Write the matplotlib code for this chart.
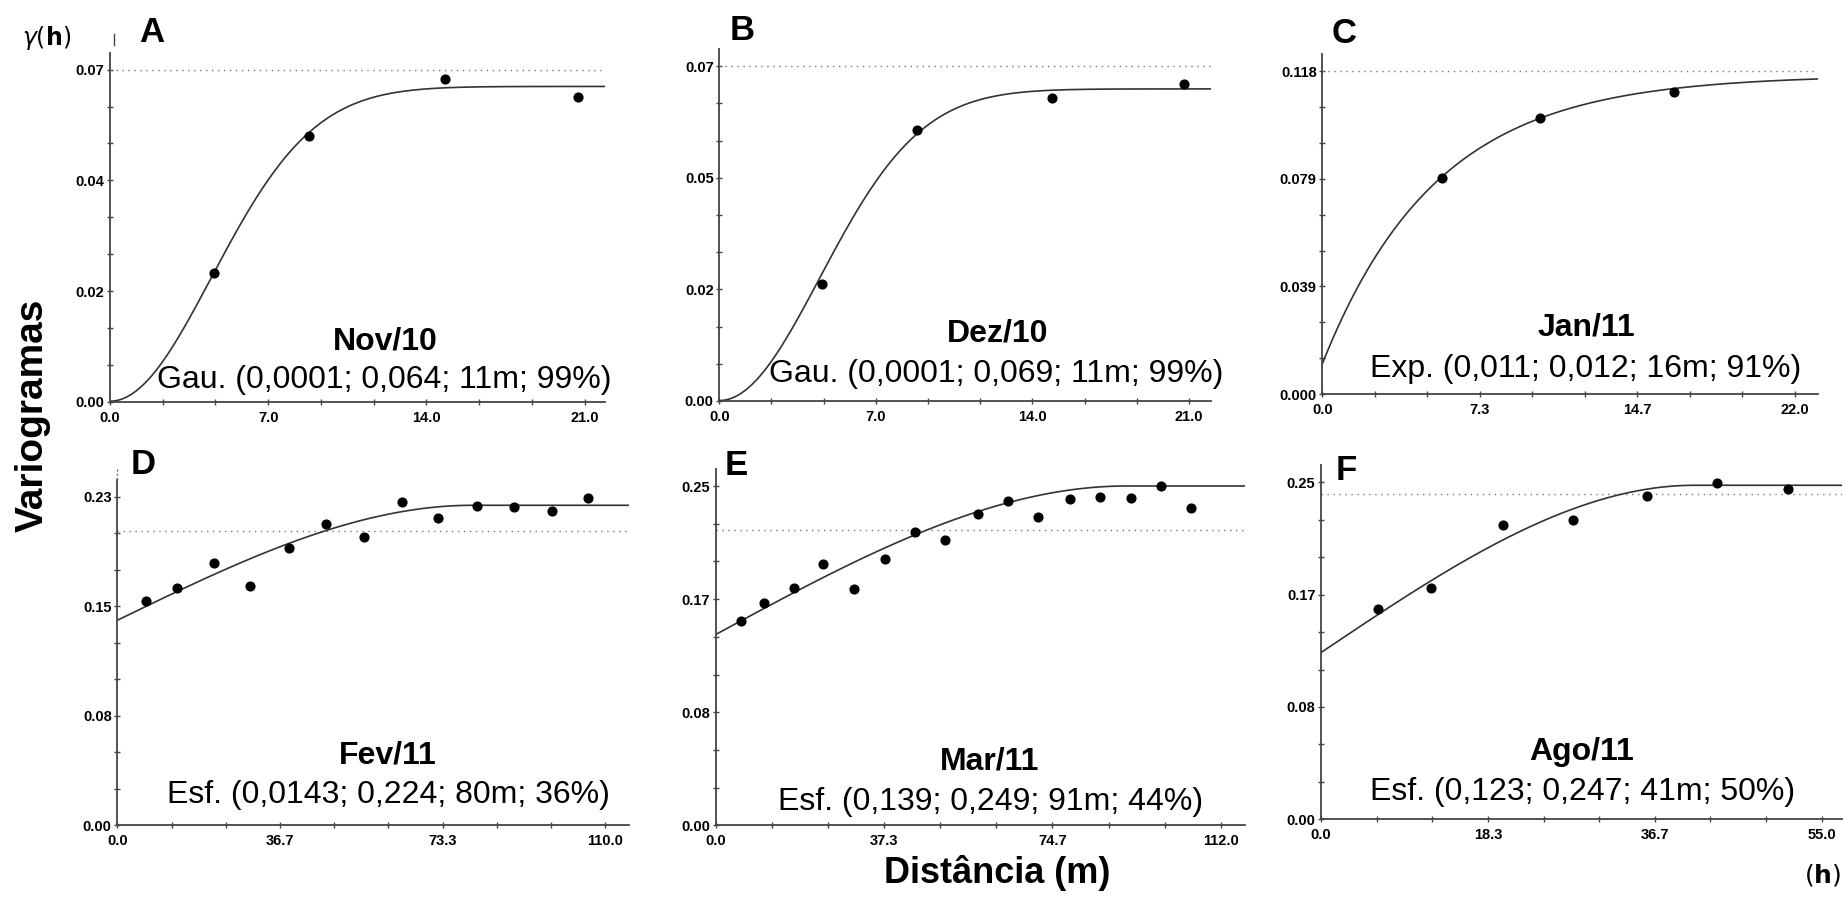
import numpy as np
import matplotlib
matplotlib.use("Agg")
import matplotlib.pyplot as plt
from matplotlib import font_manager as fm
from matplotlib.lines import Line2D

# ---------------- data ----------------
panel_letters = ["A", "B", "C", "D", "E", "F"]
months = ["Nov/10", "Dez/10", "Jan/11", "Fev/11", "Mar/11", "Ago/11"]
model_texts = [
    "Gau. (0,0001; 0,064; 11m; 99%)",
    "Gau. (0,0001; 0,069; 11m; 99%)",
    "Exp. (0,011; 0,012; 16m; 91%)",
    "Esf. (0,0143; 0,224; 80m; 36%)",
    "Esf. (0,139; 0,249; 91m; 44%)",
    "Esf. (0,123; 0,247; 41m; 50%)",
]

# experimental semivariogram points (lag, gamma)
lag_A = [4.60, 8.81, 14.84, 20.72]
gam_A = [0.0262, 0.0540, 0.0655, 0.0618]
lag_B = [4.60, 8.82, 14.86, 20.76]
gam_B = [0.0259, 0.0599, 0.0669, 0.0700]
lag_C = [5.57, 10.14, 16.40]
gam_C = [0.0791, 0.1008, 0.1104]
lag_D = [6.54, 13.52, 21.79, 29.98, 38.69, 46.96, 55.60, 64.09, 72.35, 80.99, 89.48, 97.97, 106.0]
gam_D = [0.1570, 0.1659, 0.1836, 0.1673, 0.1941, 0.2111, 0.2016, 0.2263, 0.2153, 0.2237, 0.2230, 0.2202, 0.2292]
lag_E = [5.62, 10.72, 17.29, 23.87, 30.60, 37.55, 44.12, 50.92, 58.09, 64.89, 71.47, 78.57, 85.22, 92.02, 98.82, 105.47]
gam_E = [0.1499, 0.1634, 0.1739, 0.1920, 0.1732, 0.1957, 0.2150, 0.2091, 0.2282, 0.2378, 0.2263, 0.2392, 0.2409, 0.2400, 0.2490, 0.2331]
lag_F = [6.30, 12.08, 19.96, 27.72, 35.77, 43.50, 51.30]
gam_F = [0.1553, 0.1711, 0.2174, 0.2211, 0.2391, 0.2487, 0.2443]
lags = [lag_A, lag_B, lag_C, lag_D, lag_E, lag_F]
gams = [gam_A, gam_B, gam_C, gam_D, gam_E, gam_F]

# fitted models: type, nugget, sill (C0+C), range
model_type = ["gau", "gau", "exp", "sph", "sph", "sph"]
nugget = [0.0001, 0.0001, 0.0110, 0.1435, 0.1400, 0.1233]
sill = [0.0640, 0.0690, 0.1166, 0.2240, 0.2490, 0.2470]
model_range = [11, 11, 16, 80, 91, 41]

# sample variance (dotted line)
variance = [0.0674, 0.0740, 0.1180, 0.2060, 0.2170, 0.2403]

# axes scales: top y tick value and its labels (at 0, 1/3, 2/3, 1)
y_top = [0.0674, 0.0740, 0.1180, 0.2298, 0.2490, 0.2492]
y_labels = [
    ["0.00", "0.02", "0.04", "0.07"],
    ["0.00", "0.02", "0.05", "0.07"],
    ["0.000", "0.039", "0.079", "0.118"],
    ["0.00", "0.08", "0.15", "0.23"],
    ["0.00", "0.08", "0.17", "0.25"],
    ["0.00", "0.08", "0.17", "0.25"],
]
x_top = [21.0, 21.0, 22.0, 110.0, 112.0, 55.0]
x_labels = [
    ["0.0", "7.0", "14.0", "21.0"],
    ["0.0", "7.0", "14.0", "21.0"],
    ["0.0", "7.3", "14.7", "22.0"],
    ["0.0", "36.7", "73.3", "110.0"],
    ["0.0", "37.3", "74.7", "112.0"],
    ["0.0", "18.3", "36.7", "55.0"],
]

# ---------------- layout (figure pixels) ----------------
W, H = 1843, 899
# left, right, bottom, y of top tick, x px of last x tick
geom = [
    (110.0, 605.0, 401.7, 69.7, 584.6),
    (719.3, 1211.0, 401.0, 66.3, 1189.0),
    (1322.3, 1818.3, 394.0, 71.3, 1794.6),
    (117.3, 628.6, 825.3, 497.0, 605.4),
    (715.7, 1245.0, 825.3, 486.0, 1220.8),
    (1321.0, 1842.0, 819.3, 482.3, 1821.7),
]
top_extra = 17.0
title_pos = [(385, 349), (998, 342), (1586, 336), (388, 763), (990, 770), (1582, 760)]
model_pos = [(384, 388), (996, 382), (1586, 377), (388, 803), (991, 810), (1583, 800)]
letter_pos = [(139, 42), (730, 40), (1332, 43), (131, 474), (725, 475), (1336, 480)]

names = {f.name for f in fm.fontManager.ttflist}
main_family = "Liberation Sans" if "Liberation Sans" in names else "DejaVu Sans"
tick_family = main_family


def model(kind, c0, total, a, h):
    c = total - c0
    h = np.asarray(h, dtype=float)
    if kind == "gau":
        a0 = a / np.sqrt(3.0)
        return c0 + c * (1 - np.exp(-(h / a0) ** 2))
    if kind == "exp":
        a0 = a / 3.0
        return c0 + c * (1 - np.exp(-h / a0))
    r = np.clip(h / a, 0, 1)
    return c0 + c * (1.5 * r - 0.5 * r ** 3)


def fx(x):
    return x / W


def fy(y):
    return 1 - y / H


fig = plt.figure(figsize=(W / 100, H / 100), dpi=100)
fig.patch.set_facecolor("white")

axis_col = "#444444"
for i in range(6):
    l, r, b, tt, xtp = geom[i]
    t = tt - top_extra
    ax = fig.add_axes([fx(l), fy(b), (r - l) / W, (b - t) / H])
    ymax = y_top[i] * (b - t) / (b - tt)
    xmax = x_top[i] * (r - l) / (xtp - l)
    ax.set_xlim(0, xmax)
    ax.set_ylim(0, ymax)
    for s in ["top", "right"]:
        ax.spines[s].set_visible(False)
    for s in ["left", "bottom"]:
        ax.spines[s].set_color(axis_col)
        ax.spines[s].set_linewidth(1.3)
    ax.set_facecolor("none")

    xt = [x_top[i] * k / 3 for k in range(4)]
    yt = [y_top[i] * k / 3 for k in range(4)]
    ax.set_xticks(xt)
    ax.set_xticklabels(x_labels[i], fontfamily=tick_family, fontweight="bold",
                       fontsize=10.5, color="black")
    ax.set_yticks(yt)
    ax.set_yticklabels(y_labels[i], fontfamily=tick_family, fontweight="bold",
                       fontsize=10.5, color="black")
    ax.set_xticks([x_top[i] * k / 9 for k in range(10)], minor=True)
    ax.set_yticks([y_top[i] * k / 9 for k in range(10)], minor=True)
    ax.tick_params(which="both", direction="inout", length=5, width=1, color=axis_col)
    ax.tick_params(axis="x", which="major", pad=4)
    ax.tick_params(axis="y", which="major", pad=1.5)

    # sample variance
    ax.axhline(variance[i], color="#777777", lw=1.0, linestyle=(0, (1, 3.3)))
    # model
    hh = np.linspace(0, xmax, 400)
    ax.plot(hh, model(model_type[i], nugget[i], sill[i], model_range[i], hh),
            color="#333333", lw=1.2)
    # experimental points
    ax.plot(lags[i], gams[i], "o", color="black", ms=6.3, clip_on=False)

    fig.text(fx(title_pos[i][0]), fy(title_pos[i][1]), months[i], ha="center", va="baseline",
             fontsize=23, fontweight="bold", family=main_family)
    fig.text(fx(model_pos[i][0]), fy(model_pos[i][1]), model_texts[i], ha="center", va="baseline",
             fontsize=23, family=main_family)
    fig.text(fx(letter_pos[i][0]), fy(letter_pos[i][1]), panel_letters[i], ha="left", va="baseline",
             fontsize=25, fontweight="bold", family=main_family)

# global labels
fig.text(fx(33), fy(415), "Variogramas", rotation=90, ha="center", va="center",
         fontsize=28, fontweight="bold", family=main_family)
fig.text(fx(997), fy(883), "Distância (m)", ha="center", va="baseline",
         fontsize=26, fontweight="bold", family=main_family)
fig.text(fx(22), fy(45), r"$\gamma(\mathbf{h})$", ha="left", va="baseline", fontsize=17)
fig.text(fx(1841), fy(882), r"$(\mathbf{h})$", ha="right", va="baseline", fontsize=18)
fig.add_artist(Line2D([fx(113.5), fx(113.5)], [fy(34), fy(45)], color="#444444", lw=1))
fig.add_artist(Line2D([fx(116.7), fx(116.7)], [fy(469), fy(479)], color="#666666", lw=1,
                      linestyle=(0, (1.5, 1.5))))

fig.savefig("out.png", dpi=100, facecolor="white")
